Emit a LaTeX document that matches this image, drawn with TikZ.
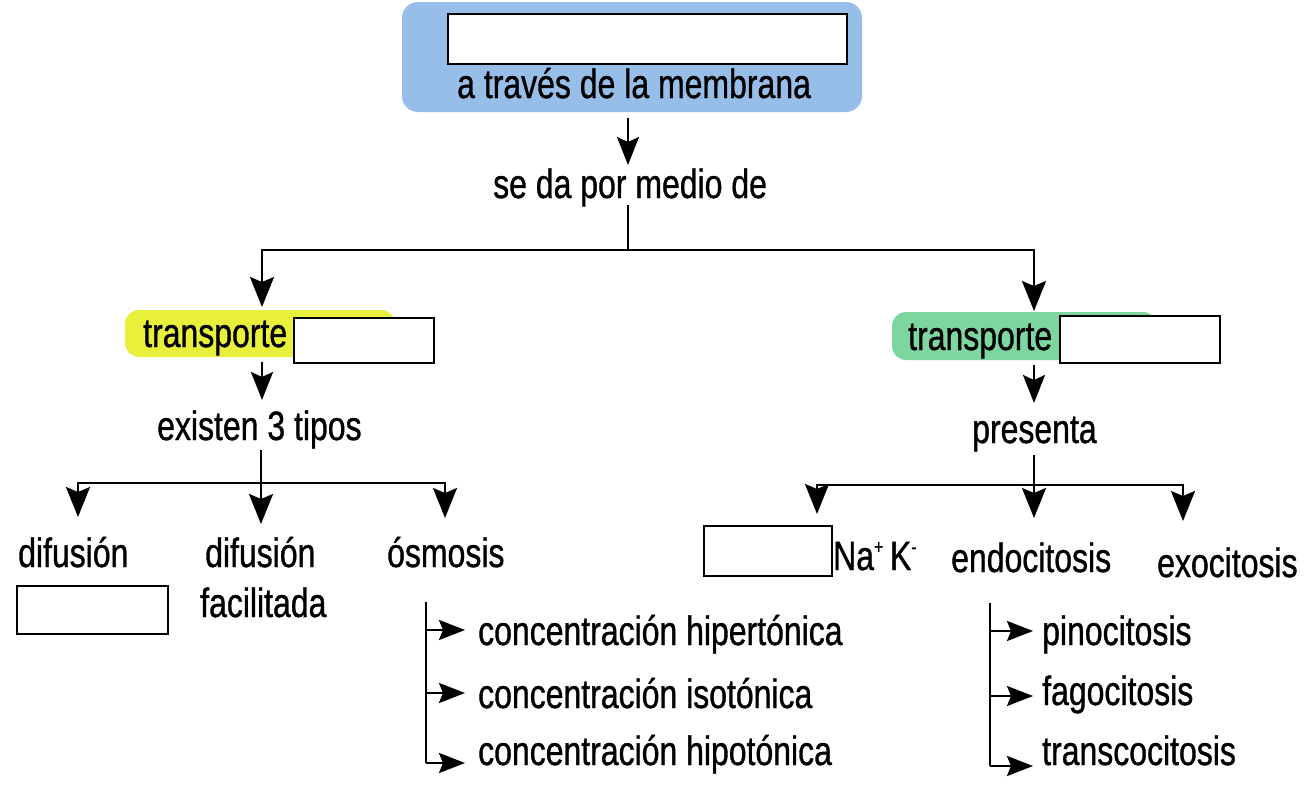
\documentclass[tikz,border=0pt]{standalone}
\usepackage{fontspec}
\setmainfont{Liberation Sans}[FakeStretch=0.78,FakeBold=0.8]
\usetikzlibrary{arrows.meta}
\definecolor{topblue}{RGB}{150,190,232}
\definecolor{hlyellow}{RGB}{232,240,60}
\definecolor{hlgreen}{RGB}{125,214,160}
\tikzset{
  ln/.style={line width=2.3pt, line join=miter},
  arr/.style={ln, arrows={-Stealth[length=30pt,width=24pt,inset=5pt]}},
  sarr/.style={ln, arrows={-Stealth[length=28pt,width=22pt,inset=5pt]}},
  harr/.style={ln, arrows={-Stealth[length=26pt,width=20pt,inset=4pt]}},
  txt/.style={anchor=base west, inner sep=0pt, font=\fontsize{41}{44}\selectfont},
  blank/.style={draw=black, line width=1.5pt, fill=white},
}
\begin{document}
\begin{tikzpicture}[x=1pt,y=-1pt]
\useasboundingbox (0,0) rectangle (1312,803);
\fill[white] (0,0) rectangle (1312,803);

% top box
\fill[topblue, rounded corners=16pt] (402,2) rectangle (862,112);
\node[blank, minimum width=399pt, minimum height=50pt, anchor=north west, inner sep=0pt] (b0) at (447,13) {};
\node[txt] (t0) at (457,98) {a través de la membrana};

\coordinate (a0s) at (628,118);
\coordinate (a0e) at (628,165);
\draw[sarr] (a0s) -- (a0e);
\node[txt] (seda) at (493,198) {se da por medio de};

\coordinate (j0) at (628,205);
\coordinate (j1) at (628,250);
\coordinate (jl) at (262,250);
\coordinate (jr) at (1034,250);
\coordinate (jlt) at (262,307);
\coordinate (jrt) at (1034,311);
\draw[ln] (j0) -- (j1);
\draw[arr] (j1) -- (jl) -- (jlt);
\draw[arr] (j1) -- (jr) -- (jrt);

% left transporte
\fill[hlyellow, rounded corners=14pt] (125,310) rectangle (395,357);
\node[txt] (tl) at (143,347) {transporte};
\node[blank, minimum width=140pt, minimum height=45pt, anchor=north west, inner sep=0pt] (bl) at (293,317) {};

% right transporte
\fill[hlgreen, rounded corners=14pt] (892,312) rectangle (1157,360);
\node[txt] (tr) at (908,350) {transporte};
\node[blank, minimum width=160pt, minimum height=47pt, anchor=north west, inner sep=0pt] (br) at (1059,315) {};

% left subtree
\coordinate (l1) at (262,362);
\coordinate (l2) at (262,400);
\draw[sarr] (l1) -- (l2);
\node[txt] (exist) at (157,440) {existen 3 tipos};
\coordinate (l3) at (261,450);
\coordinate (l4) at (261,483);
\coordinate (l5) at (261,524);
\coordinate (lL) at (78,483);
\coordinate (lR) at (445,483);
\coordinate (lLt) at (78,517);
\coordinate (lRt) at (445,518);
\draw[arr] (l3) -- (l5);
\draw[arr] (l4) -- (lL) -- (lLt);
\draw[arr] (l4) -- (lR) -- (lRt);

\node[txt] (dif) at (18,567) {difusión};
\node[blank, minimum width=151pt, minimum height=48pt, anchor=north west, inner sep=0pt] (bd) at (16,585) {};
\node[txt] (dif2) at (205,567) {difusión};
\node[txt] (fac) at (200,617) {facilitada};
\node[txt] (osm) at (387,567) {ósmosis};

% osmosis bracket
\coordinate (o0) at (426,602);
\coordinate (o1) at (426,630);
\coordinate (o2) at (426,693);
\coordinate (o3) at (426,763);
\node[txt] (c1) at (478,645) {concentración hipertónica};
\node[txt] (c2) at (478,708) {concentración isotónica};
\node[txt] (c3) at (478,765) {concentración hipotónica};
\coordinate (o1t) at (465,630);
\coordinate (o2t) at (465,693);
\coordinate (o3t) at (465,763);
\draw[ln] (o0) -- (o3);
\draw[harr] (o1) -- (o1t);
\draw[harr] (o2) -- (o2t);
\draw[harr] (o3) -- (o3t);

% right subtree
\coordinate (r1) at (1034,365);
\coordinate (r2) at (1034,403);
\draw[sarr] (r1) -- (r2);
\node[txt] (pres) at (972,443) {presenta};
\coordinate (r3) at (1034,455);
\coordinate (r4) at (1034,485);
\coordinate (r5) at (1034,518);
\coordinate (rL) at (817,485);
\coordinate (rR) at (1183,485);
\coordinate (rLt) at (817,514);
\coordinate (rRt) at (1183,521);
\draw[arr] (r3) -- (r5);
\draw[arr] (r4) -- (rL) -- (rLt);
\draw[arr] (r4) -- (rR) -- (rRt);

\node[blank, minimum width=128pt, minimum height=50pt, anchor=north west, inner sep=0pt] (bn) at (703,525) {};
\node[txt] (nak) at (833,570) {Na\raisebox{0.4em}{\fontsize{20}{22}\selectfont +}\,K\raisebox{0.4em}{\fontsize{20}{22}\selectfont -}};
\node[txt] (endo) at (951,572) {endocitosis};
\node[txt] (exo) at (1157,577) {exocitosis};

% endocitosis bracket
\coordinate (e0) at (990,603);
\coordinate (e1) at (990,631);
\coordinate (e2) at (990,696);
\coordinate (e3) at (990,766);
\coordinate (e1t) at (1033,631);
\coordinate (e2t) at (1033,696);
\coordinate (e3t) at (1033,766);
\draw[ln] (e0) -- (e3);
\draw[harr] (e1) -- (e1t);
\draw[harr] (e2) -- (e2t);
\draw[harr] (e3) -- (e3t);
\node[txt] (pino) at (1042,645) {pinocitosis};
\node[txt] (fago) at (1042,705) {fagocitosis};
\node[txt] (trans) at (1042,765) {transcocitosis};
\end{tikzpicture}
\end{document}
